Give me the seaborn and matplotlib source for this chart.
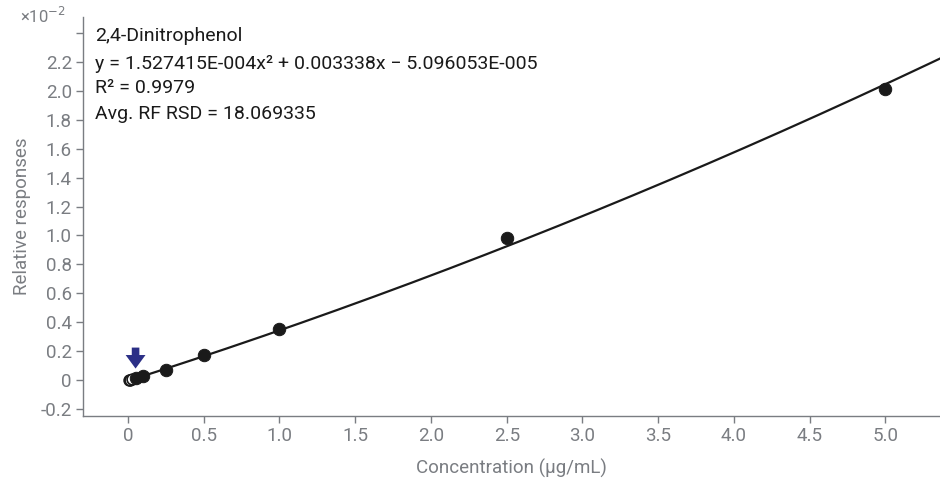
import numpy as np
import pandas as pd
import matplotlib
matplotlib.use('Agg')
import matplotlib.pyplot as plt
from matplotlib.ticker import FuncFormatter
import seaborn as sns

# calibration levels (ug/mL) and relative responses (x1e-2)
conc_used = [0.05, 0.1, 0.25, 0.5, 1.0, 2.5, 5.0]
resp_used = [0.014, 0.03, 0.069, 0.173, 0.353, 0.98, 2.01]
conc_excl = [0.005, 0.01, 0.025]
resp_excl = [0.0, 0.003, 0.007]

# fit coefficients shown on the chart (real units)
coef_a = 1.527415e-4
coef_b = 0.003338
coef_c = -5.096053e-5
eq_text = ['2,4-Dinitrophenol',
           'y = 1.527415E-004x\u00b2 + 0.003338x \u2212 5.096053E-005',
           'R\u00b2 = 0.9979',
           'Avg. RF RSD = 18.069335']

loq_conc = 0.05
yticks = [-0.2, 0, 0.2, 0.4, 0.6, 0.8, 1.0, 1.2, 1.4, 1.6, 1.8, 2.0, 2.2, 2.4]
xticks = [0, 0.5, 1.0, 1.5, 2.0, 2.5, 3.0, 3.5, 4.0, 4.5, 5.0]

sns.set_style('ticks')
plt.rcParams['font.family'] = ['Roboto', 'DejaVu Sans']
plt.rcParams['axes.unicode_minus'] = False
grey = '#7a7d82'

fit_x = np.linspace(0, 5.4, 200)
fit_df = pd.DataFrame({'x': fit_x,
                       'y': (coef_a * fit_x**2 + coef_b * fit_x + coef_c) * 100})
used_df = pd.DataFrame({'x': conc_used, 'y': resp_used})
excl_df = pd.DataFrame({'x': conc_excl, 'y': resp_excl})

fig = plt.figure(figsize=(9.4, 4.86), dpi=100)
ax = fig.add_axes([0.0883, 0.144, 0.9117, 0.821])

sns.lineplot(data=fit_df, x='x', y='y', ax=ax, color='#1a1a1a', lw=1.6, zorder=2)
sns.scatterplot(data=excl_df, x='x', y='y', ax=ax, s=60, facecolor='white',
                edgecolor='#1a1a1a', linewidth=1.2, zorder=3)
sns.scatterplot(data=used_df, x='x', y='y', ax=ax, s=80, color='#1a1a1a',
                edgecolor='#1a1a1a', zorder=4)

ax.annotate('', xy=(loq_conc, 0.08), xytext=(loq_conc, 0.225),
            arrowprops=dict(arrowstyle='simple,head_width=1.1,head_length=0.75,tail_width=0.42',
                            color='#2b2f86', lw=0, mutation_scale=13,
                            shrinkA=0, shrinkB=0), zorder=5)

ax.set_xlim(-0.297, 5.36)
ax.set_ylim(-0.248, 2.51)
ax.set_xticks(xticks)
ax.set_yticks(yticks)

def yfmt(v, pos):
    if abs(v) < 1e-9:
        return '0'
    if v > 2.3:
        return ''
    return f'{v:.1f}'

def xfmt(v, pos):
    if abs(v) < 1e-9:
        return '0'
    return f'{v:.1f}'

ax.yaxis.set_major_formatter(FuncFormatter(yfmt))
ax.xaxis.set_major_formatter(FuncFormatter(xfmt))

for side in ['top', 'right']:
    ax.spines[side].set_visible(False)
for side in ['left', 'bottom']:
    ax.spines[side].set_color(grey)
    ax.spines[side].set_linewidth(1.0)
ax.tick_params(colors=grey, labelsize=13.5, length=5, width=1.0, pad=3)

ax.set_xlabel('Concentration (\u00b5g/mL)', fontsize=13.5, color=grey, labelpad=10)
ax.set_ylabel('Relative responses', fontsize=13.5, color=grey, labelpad=7)

fig.text(0.070, 0.968, '\u00d710$^{-2}$', fontsize=12, color=grey, ha='right', va='center')

line_y = [0.952, 0.882, 0.822, 0.757]
for txt, yy in zip(eq_text, line_y):
    ax.text(0.014, yy, txt, transform=ax.transAxes,
            fontsize=14, color='#1a1a1a', va='center', ha='left')

fig.savefig('out.png', dpi=100)
